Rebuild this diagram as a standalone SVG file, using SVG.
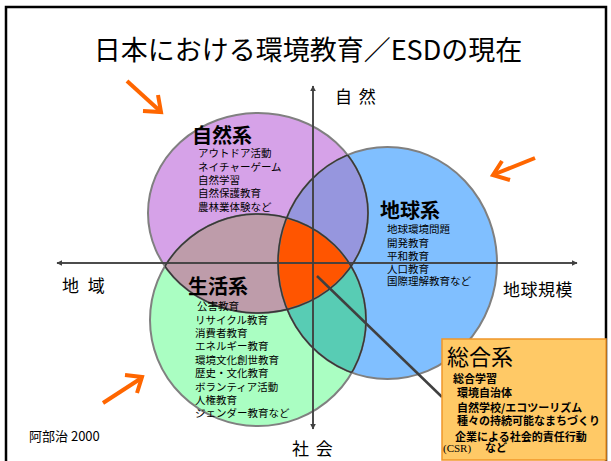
<svg xmlns="http://www.w3.org/2000/svg" width="611" height="461" viewBox="0 0 611 461">
<defs>
<style>
text{font-family:"Noto Sans CJK JP","Noto Sans CJK SC",sans-serif;fill:#000}
.t{font-size:27px}
.ax{font-size:17px}
.h{font-size:20px;font-weight:bold}
.s{font-size:10.5px}
.b{font-size:11px;font-weight:bold}
.axis{stroke:#404040;stroke-width:1.5;fill:none}
.outer{fill:none;stroke:#808080;stroke-width:2}
.inner{fill:none;stroke:#383838;stroke-width:1.5}
.arr{fill:none;stroke:#FF6600;stroke-width:4;stroke-linejoin:miter}
</style>
<marker id="ah" viewBox="0 0 10 10" refX="9" refY="5" markerWidth="6" markerHeight="6" orient="auto" markerUnits="userSpaceOnUse">
<path d="M0,0 L10,5 L0,10 Z" fill="#404040"/>
</marker>
<ellipse id="eP" cx="258" cy="213" rx="110" ry="100"/>
<ellipse id="eG" cx="258" cy="320" rx="108" ry="106"/>
<ellipse id="eB" cx="387.5" cy="263" rx="109.5" ry="116"/>
<clipPath id="cP"><use href="#eP"/></clipPath>
<clipPath id="cG"><use href="#eG"/></clipPath>
<clipPath id="cB"><use href="#eB"/></clipPath>
<clipPath id="cGB"><use href="#eG"/><use href="#eB"/></clipPath>
<clipPath id="cPB"><use href="#eP"/><use href="#eB"/></clipPath>
<clipPath id="cPG"><use href="#eP"/><use href="#eG"/></clipPath>
</defs>
<rect x="0" y="0" width="611" height="461" fill="#fff"/>
<rect x="6" y="7" width="600" height="470" fill="none" stroke="#000" stroke-width="2.5"/>
<text class="t" x="308" y="60" text-anchor="middle">日本における環境教育／ESDの現在</text>

<g id="fills">
<use href="#eP" fill="#D6A2E8"/>
<use href="#eG" fill="#AAFEC2"/>
<use href="#eB" fill="#80BFFF"/>
<g clip-path="url(#cG)"><use href="#eP" fill="#BE9CAA"/></g>
<g clip-path="url(#cB)"><use href="#eP" fill="#9696DE"/></g>
<g clip-path="url(#cB)"><use href="#eG" fill="#58CCB4"/></g>
<g clip-path="url(#cG)"><g clip-path="url(#cB)"><use href="#eP" fill="#FF5500"/></g></g>
<use href="#eP" class="outer"/>
<use href="#eG" class="outer"/>
<use href="#eB" class="outer"/>
<g clip-path="url(#cGB)"><use href="#eP" class="inner"/></g>
<g clip-path="url(#cPB)"><use href="#eG" class="inner"/></g>
<g clip-path="url(#cPG)"><use href="#eB" class="inner"/></g>
</g>

<g id="connectors">
<line class="axis" x1="313" y1="429" x2="313" y2="86" marker-end="url(#ah)"/>
<line class="axis" x1="313" y1="86" x2="313" y2="429" marker-end="url(#ah)"/>
<line class="axis" x1="57" y1="263" x2="577" y2="263" marker-end="url(#ah)"/>
<line class="axis" x1="577" y1="263" x2="57" y2="263" marker-end="url(#ah)"/>
<line x1="317" y1="276" x2="442" y2="397" stroke="#404040" stroke-width="2.5"/>
</g>

<g id="accents">
<line class="arr" x1="127" y1="81" x2="160" y2="111"/>
<polyline class="arr" points="158,95 161,112 143,111"/>
<line class="arr" x1="535" y1="158" x2="495" y2="174"/>
<polyline class="arr" points="502,161 493,175 510,180"/>
<line class="arr" x1="103" y1="403" x2="140" y2="379"/>
<polyline class="arr" points="125,375 142,377 137,393"/>
</g>

<g id="axis-labels">
<text class="ax" x="335" y="103" word-spacing="3">自 然</text>
<text class="ax" x="292" y="455" word-spacing="3">社 会</text>
<text class="ax" x="62" y="292" word-spacing="5">地 域</text>
<text class="ax" x="503" y="296" font-size="19" letter-spacing="0.5">地球規模</text>
</g>

<g id="node-nature">
<text class="h" x="192" y="143">自然系</text>
<text class="s" x="198" y="157">アウトドア活動</text>
<text class="s" x="198" y="171">ネイチャーゲーム</text>
<text class="s" x="198" y="184">自然学習</text>
<text class="s" x="198" y="197">自然保護教育</text>
<text class="s" x="198" y="211">農林業体験など</text>
</g>

<g id="node-global">
<text class="h" x="380" y="218">地球系</text>
<text class="s" x="387" y="233">地球環境問題</text>
<text class="s" x="387" y="247">開発教育</text>
<text class="s" x="387" y="260">平和教育</text>
<text class="s" x="387" y="273">人口教育</text>
<text class="s" x="387" y="285">国際理解教育など</text>
</g>

<g id="node-life">
<text class="h" x="188" y="294">生活系</text>
<text class="s" x="197" y="310">公害教育</text>
<text class="s" x="195" y="323.5">リサイクル教育</text>
<text class="s" x="195" y="337">消費者教育</text>
<text class="s" x="195" y="350">エネルギー教育</text>
<text class="s" x="195" y="363.5">環境文化創世教育</text>
<text class="s" x="195" y="377">歴史・文化教育</text>
<text class="s" x="195" y="390.5">ボランティア活動</text>
<text class="s" x="195" y="404">人権教育</text>
<text class="s" x="195" y="417">ジェンダー教育など</text>
</g>

<g id="node-integrated">
<rect x="442" y="339" width="164" height="121" fill="#FFC966" stroke="#F0962A" stroke-width="1.5"/>
<text x="447" y="365" font-size="22">総合系</text>
<text class="b" x="453" y="383">総合学習</text>
<text class="b" x="457" y="397">環境自治体</text>
<text class="b" x="457" y="412">自然学校/エコツーリズム</text>
<text class="b" x="457" y="425">種々の持続可能なまちづくり</text>
<text class="b" x="455" y="441">企業による社会的責任行動</text>
<text class="b" x="443" y="452"><tspan font-family="'Liberation Serif',serif" font-weight="normal">(CSR)</tspan><tspan x="485">など</tspan></text>
</g>

<text x="29" y="441" font-size="13">阿部治 2000</text>
</svg>
